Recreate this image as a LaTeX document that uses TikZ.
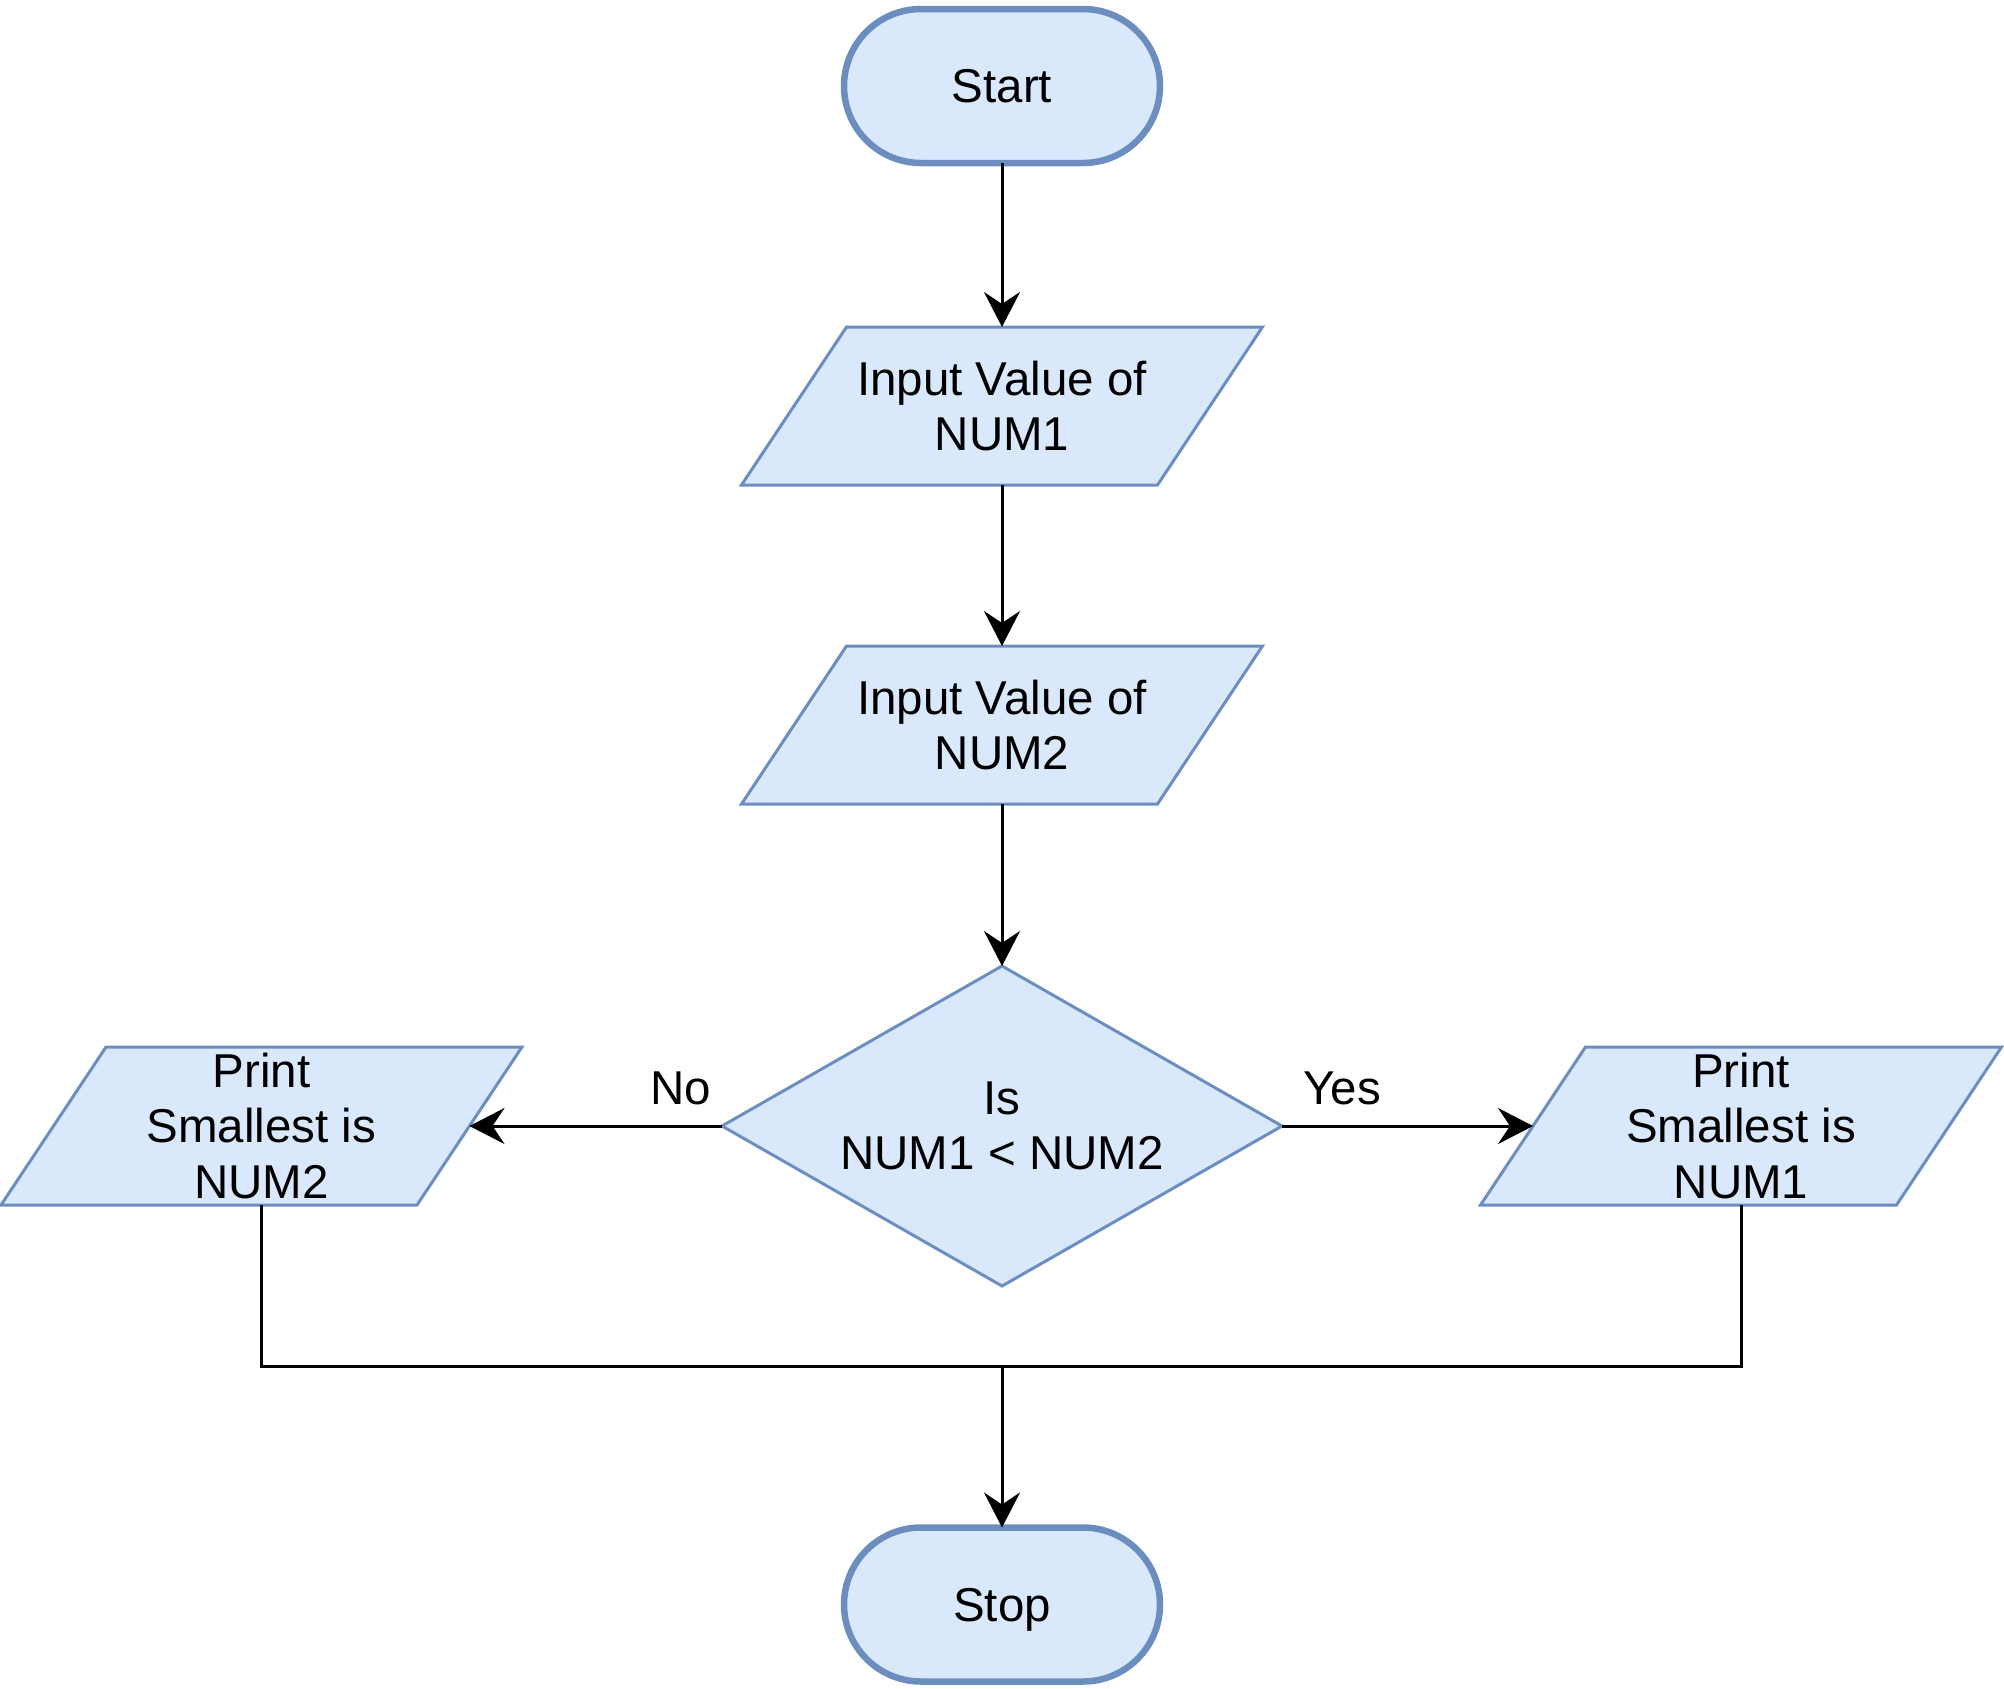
\documentclass[tikz,border=0pt]{standalone}
\usepackage{fontspec}
\setmainfont{Liberation Sans}
\usetikzlibrary{shapes.geometric,arrows.meta,backgrounds,calc}
\definecolor{boxfill}{HTML}{DAE8FC}
\definecolor{boxline}{HTML}{6C8EBF}
\tikzset{
  base/.style={outer sep=0pt, inner sep=0pt, align=center,
    font=\fontsize{23.75pt}{27.75pt}\selectfont},
  term/.style={base, rectangle, draw=boxline, fill=boxfill, line width=3.25pt,
    minimum width=158pt, minimum height=77pt, rounded corners=38.5pt, text depth=0pt},
  iobox/.style={base, rectangle, minimum width=208pt, minimum height=79pt},
  decbox/.style={base, rectangle, minimum width=280pt, minimum height=160pt},
  para/.style={draw=boxline, fill=boxfill, line width=1.5pt, line join=miter},
  conn/.style={line width=1.5pt, black},
  arrowconn/.style={conn, -{Stealth[length=17.5pt,width=18pt,inset=6pt]}},
  lbl/.style={base}
}
\begin{document}
\begin{tikzpicture}[x=0.5pt,y=-0.5pt]
  \useasboundingbox (0,0) rectangle (2004,1688);

  \node[term] (start) at (1002,86) {Start};
  \node[iobox] (in1) at (1002,406) {Input Value of\\NUM1};
  \node[iobox] (in2) at (1002,725) {Input Value of\\NUM2};
  \node[decbox] (dec) at (1002,1126) {Is\\NUM1 < NUM2};
  \node[iobox] (pl) at (261.5,1126) {Print\\Smallest is\\NUM2};
  \node[iobox] (pr) at (1741,1126) {Print\\Smallest is\\NUM1};
  \node[term] (stop) at (1002,1604.5) {Stop};

  \begin{scope}[on background layer]
    \fill[white] (0,0) rectangle (2004,1688);
    \foreach \n in {in1,in2,pl,pr}{
      \draw[para] ([xshift=26.25pt]\n.north west) -- ([xshift=26.25pt]\n.north east)
        -- ([xshift=-26.25pt]\n.south east) -- ([xshift=-26.25pt]\n.south west) -- cycle;
    }
    \draw[para] (dec.north) -- (dec.east) -- (dec.south) -- (dec.west) -- cycle;
  \end{scope}

  \coordinate (merge) at (1002,1366);

  \draw[arrowconn] (start.south) -- (in1.north);
  \draw[arrowconn] (in1.south) -- (in2.north);
  \draw[arrowconn] (in2.south) -- (dec.north);
  \draw[arrowconn] (dec.west) -- (pl.east);
  \draw[arrowconn] (dec.east) -- (pr.west);
  \draw[conn] (pl.south) |- (merge);
  \draw[conn] (pr.south) |- (merge);
  \draw[arrowconn] (merge) -- (stop.north);

  \node[lbl] (no) at (681,1088) {No};
  \node[lbl] (yes) at (1342,1088) {Yes};
\end{tikzpicture}
\end{document}
